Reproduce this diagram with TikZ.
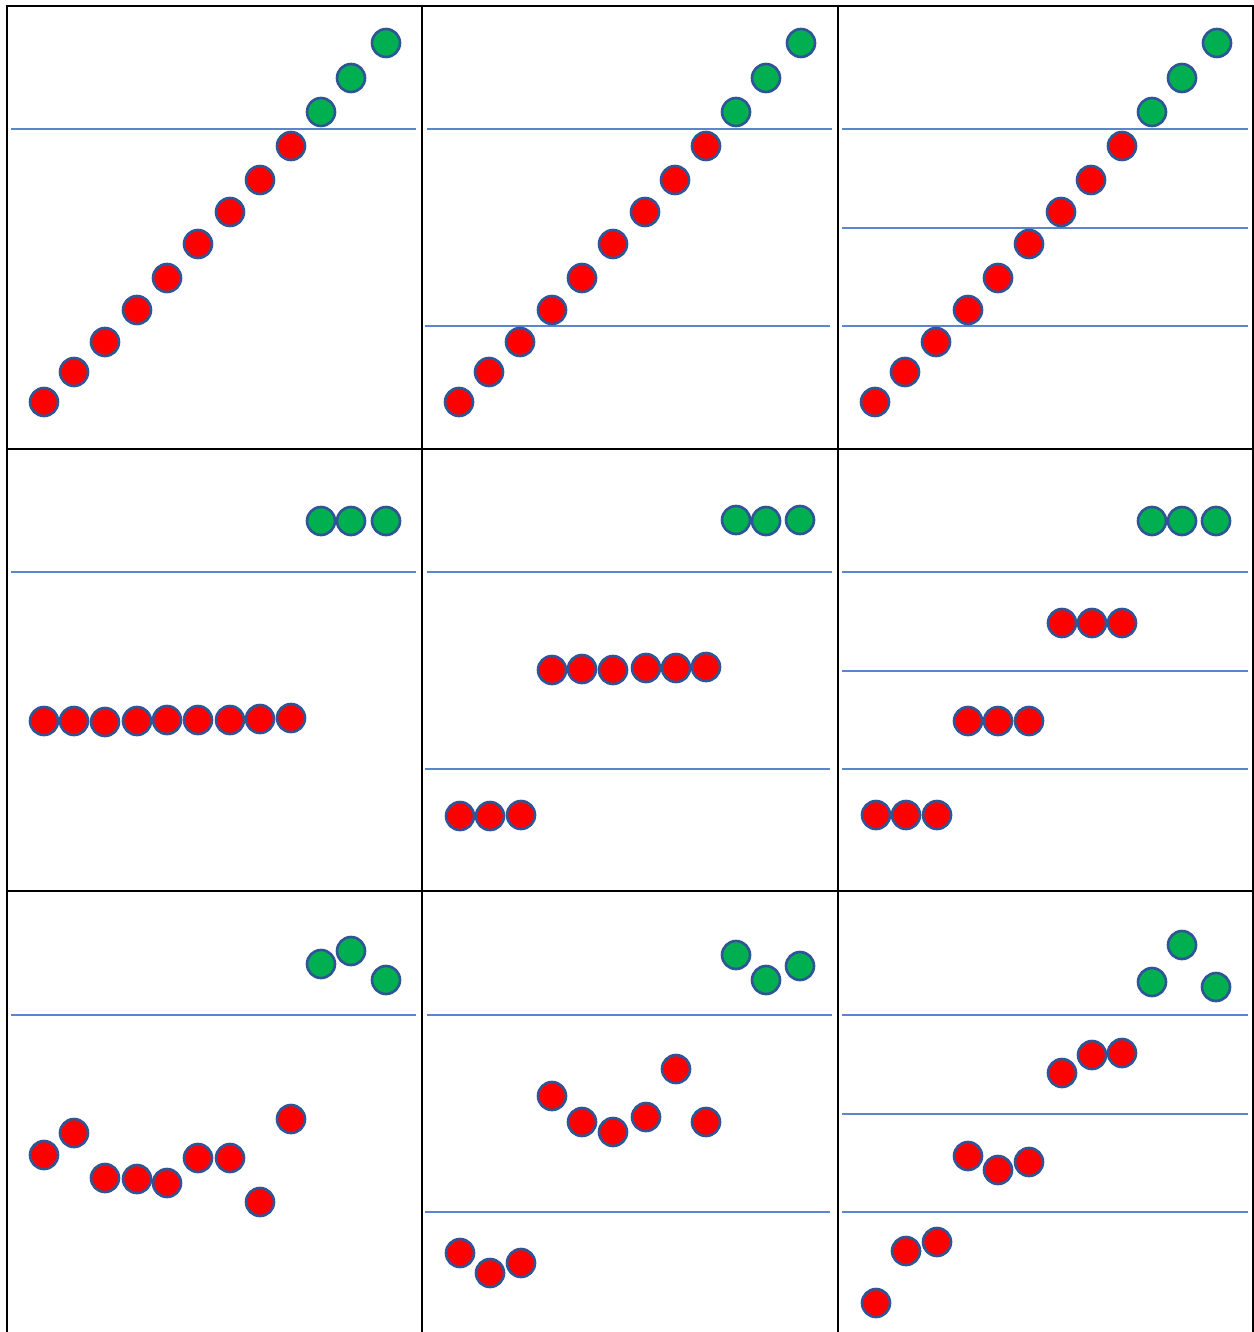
\documentclass[tikz,border=0pt]{standalone}
\usepackage{tikz}
\definecolor{dotred}{HTML}{FF0000}
\definecolor{dotgreen}{HTML}{00B050}
\definecolor{dotedge}{HTML}{2F5597}
\definecolor{cutblue}{HTML}{5B85CF}

\begin{document}
\begin{tikzpicture}[x=0.02cm, y=-0.02cm,
 dot/.style={circle, draw=dotedge, line width=1.5pt, minimum size=0.56cm, inner sep=0pt},
 reddot/.style={dot, fill=dotred}, greendot/.style={dot, fill=dotgreen},
 cut/.style={draw=cutblue, line width=1pt},
 frame/.style={draw=black, line width=1.4pt}]
\useasboundingbox (0,0) rectangle (1254,1332);
% grid of panels
\draw[frame] (7,1332) -- (7,6) -- (1253,6) -- (1253,1332);
\draw[frame] (422,6) -- (422,1332) (838,6) -- (838,1332);
\draw[frame] (7,449) -- (1253,449) (7,891) -- (1253,891);
% threshold lines
\foreach \y in {129,572,1015} {
  \draw[cut] (11,\y) -- (416,\y) (427,\y) -- (832,\y) (842,\y) -- (1248,\y);
}
\foreach \y in {326,769,1212} \draw[cut] (425,\y) -- (830,\y);
\foreach \y in {228,326,671,769,1114,1212} \draw[cut] (842,\y) -- (1248,\y);
% row 1: sorted diagonal
\foreach \dx [count=\c] in {0,415,831} {
  \foreach \x/\y [count=\i] in {44/402,74/372,105/342,137/310,167/278,198/244,230/212,260/180,291/146}
    \node[reddot] (a\c-\i) at (\x+\dx,\y) {};
  \foreach \x/\y [count=\i] in {321/112,351/78,386/43}
    \node[greendot] (ag\c-\i) at (\x+\dx,\y) {};
}
% row 2: grouped levels
\foreach \x/\y [count=\i] in {321/521,351/521,386/521,736/520,766/521,800/520,1152/521,1182/521,1216/521}
  \node[greendot] (bg\i) at (\x,\y) {};
\foreach \x/\y [count=\i] in {44/721,74/721,105/722,137/721,167/720,198/720,230/720,260/719,291/718,
  552/670,582/669,613/670,646/668,676/668,706/667,460/816,490/816,521/815,
  1062/623,1092/623,1122/623,968/721,998/721,1029/721,876/815,906/815,937/815}
  \node[reddot] (b\i) at (\x,\y) {};
% row 3: scattered
\foreach \x/\y [count=\i] in {321/964,351/951,386/980,736/955,766/980,800/966,1152/982,1182/945,1216/987}
  \node[greendot] (cg\i) at (\x,\y) {};
\foreach \x/\y [count=\i] in {44/1155,74/1133,105/1178,137/1179,167/1183,198/1158,230/1158,260/1202,291/1119,
  552/1096,582/1122,613/1132,646/1117,676/1069,706/1122,460/1253,490/1273,521/1263,
  1062/1073,1092/1055,1122/1053,968/1156,998/1170,1029/1162,876/1303,906/1251,937/1242}
  \node[reddot] (c\i) at (\x,\y) {};
\end{tikzpicture}
\end{document}
